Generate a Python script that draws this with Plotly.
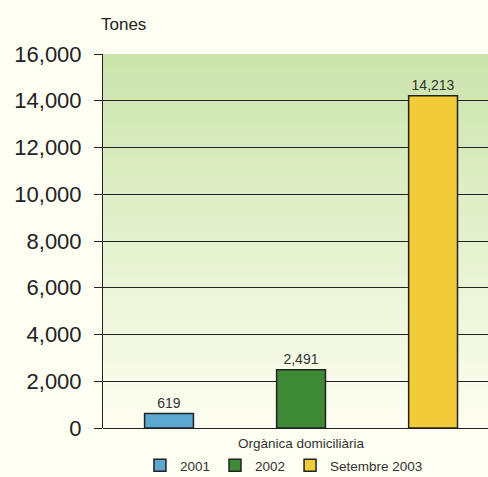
import base64
import plotly.graph_objects as go

# dades
categoria = ["Orgànica domiciliària"]
series = ["2001", "2002", "Setembre 2003"]
valors = [619, 2491, 14213]
colors = ["#5ba8d0", "#3f8a36", "#f2cb38"]
y_ticks = [0, 2000, 4000, 6000, 8000, 10000, 12000, 14000, 16000]

FONT = "Liberation Sans"

fig = go.Figure()

for nom, val, col in zip(series, valors, colors):
    fig.add_trace(go.Bar(x=categoria, y=[val], name=nom,
                         marker=dict(color=col, line=dict(color="#222222", width=1.5)),
                         text=[f"{val:,}"], textposition="outside",
                         textfont=dict(size=14, color="#333333", family=FONT),
                         cliponaxis=False))

# fons en degradat (verd a dalt, crema a baix)
svg = ('<svg xmlns="http://www.w3.org/2000/svg" width="10" height="100" preserveAspectRatio="none">'
       '<defs><linearGradient id="g" x1="0" y1="0" x2="0" y2="1">'
       '<stop offset="0" stop-color="#cbe4ab"/><stop offset="1" stop-color="#fefef2"/>'
       '</linearGradient></defs><rect width="10" height="100" fill="url(#g)"/></svg>')
uri = "data:image/svg+xml;base64," + base64.b64encode(svg.encode()).decode()
fig.add_layout_image(dict(source=uri, xref="paper", yref="paper", x=0, y=1,
                          sizex=1, sizey=1, sizing="stretch", layer="below",
                          xanchor="left", yanchor="top"))

fig.update_layout(width=488, height=477,
                  margin=dict(l=103, r=0, t=54, b=49),
                  paper_bgcolor="#fefef2", plot_bgcolor="rgba(0,0,0,0)",
                  barmode="group", bargap=0, bargroupgap=0.63,
                  font=dict(family=FONT, color="#222222"),
                  showlegend=True,
                  legend=dict(orientation="h", x=0.47, xanchor="center",
                              y=0.024, yanchor="middle", yref="container",
                              font=dict(size=13.5, color="#333333", family=FONT),
                              bgcolor="rgba(0,0,0,0)"))

fig.update_xaxes(range=[-0.5, 0.472], showline=False, showgrid=False,
                 tickfont=dict(size=13.5, color="#333333", family=FONT), ticks="",
                 ticklabelstandoff=5)

fig.update_yaxes(range=[0, 16000], tickvals=y_ticks, tickformat=",d",
                 ticks="outside", ticklen=8, tickcolor="#222222", ticklabelstandoff=8,
                 tickfont=dict(size=22, color="#222222", family=FONT),
                 showline=True, linecolor="#222222", linewidth=1,
                 showgrid=True, gridcolor="#222222", gridwidth=1,
                 zeroline=True, zerolinecolor="#222222", zerolinewidth=1)

fig.add_annotation(text="Tones", xref="paper", yref="paper", x=0, y=1, xanchor="left",
                   yanchor="bottom", yshift=18, xshift=-4, showarrow=False,
                   font=dict(size=17, color="#222222", family=FONT))

fig.write_html("out.html", config={"displayModeBar": False},
               post_script="document.body.style.margin='0';")
